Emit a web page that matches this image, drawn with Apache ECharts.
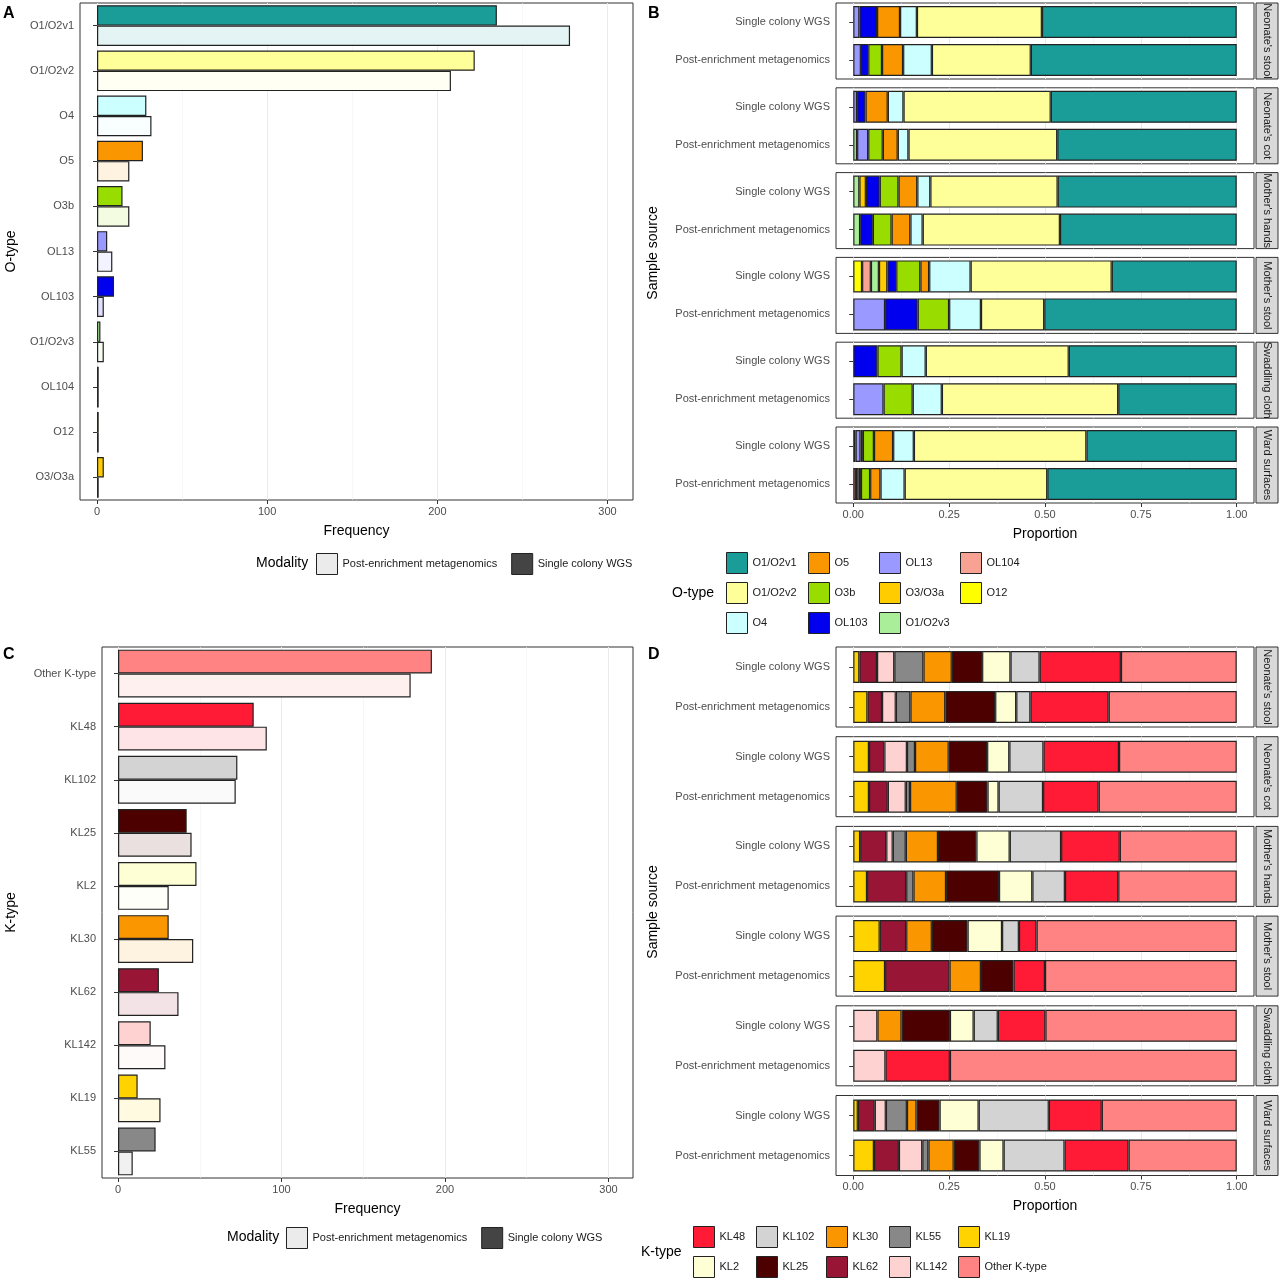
<!DOCTYPE html>
<html>
<head>
<meta charset="utf-8">
<script src="https://cdn.jsdelivr.net/npm/echarts@6/dist/echarts.min.js"></script>
<style>html,body{margin:0;padding:0;background:#fff}#main{width:1280px;height:1279px}</style>
</head>
<body>
<div id="main"></div>
<script>
// ---------- data ----------
var oTypes = ['O1/O2v1','O1/O2v2','O4','O5','O3b','OL13','OL103','O1/O2v3','OL104','O12','O3/O3a'];
var oFreqSC = [235, 222, 29, 27, 15, 6, 10, 2, 1, 1, 4];
var oFreqPE = [278, 208, 32, 19, 19, 9, 4, 4, 1, 1, 1];

var kTypes = ['Other K-type','KL48','KL102','KL25','KL2','KL30','KL62','KL142','KL19','KL55'];
var kFreqSC = [192, 83, 73, 42, 48, 31, 25, 20, 12, 23];
var kFreqPE = [179, 91, 72, 45, 31, 46, 37, 29, 26, 9];

var sources = ["Neonate's stool","Neonate's cot","Mother's hands","Mother's stool","Swaddling cloth","Ward surfaces"];
var modalities = ['Single colony WGS','Post-enrichment metagenomics'];

// stacking order, left to right
var oStack = ['O12','OL104','O1/O2v3','O3/O3a','OL13','OL103','O3b','O5','O4','O1/O2v2','O1/O2v1'];
var oPropSC = [
  [0,0,0,0,.016,.046,0,.060,.044,.326,.508],
  [0,0,0,0,.01,.022,0,.058,.041,.384,.485],
  [0,0,.016,.017,0,.036,.049,.049,.034,.332,.467],
  [.023,.023,.021,.022,0,.023,.063,.023,.108,.368,.326],
  [0,0,0,0,0,.063,.063,0,.063,.373,.438],
  [0,.006,0,0,.013,.006,.029,.05,.054,.45,.392]
];
var oPropPE = [
  [0,0,0,0,.02,.019,.036,.055,.075,.258,.537],
  [0,0,.01,0,.029,0,.038,.039,.028,.388,.468],
  [0,0,.018,0,0,.033,.049,.049,.032,.358,.461],
  [0,0,0,0,.083,.085,.082,0,.083,.165,.502],
  [0,0,0,0,.079,0,.076,0,.076,.46,.309],
  [0,.007,0,0,.007,.006,.024,.027,.063,.372,.494]
];

var kStack = ['KL19','KL62','KL142','KL55','KL30','KL25','KL2','KL102','KL48','Other K-type'];
var kPropSC = [
  [.016,.046,.045,.076,.074,.079,.074,.076,.212,.302],
  [.041,.04,.059,.021,.088,.1,.058,.089,.197,.307],
  [.018,.068,.017,.034,.084,.1,.087,.134,.153,.305],
  [.069,.069,0,0,.067,.093,.09,.044,.046,.522],
  [0,0,.063,0,.063,.126,.062,.063,.124,.499],
  [.012,.044,.029,.055,.025,.06,.102,.183,.138,.352]
];
var kPropPE = [
  [.037,.038,.036,.038,.091,.13,.055,.037,.204,.334],
  [.041,.049,.047,.011,.122,.08,.029,.116,.145,.36],
  [.036,.102,0,.019,.085,.138,.087,.085,.139,.309],
  [.083,.168,0,0,.082,.085,0,0,.082,.5],
  [0,0,.084,0,0,0,0,0,.168,.748],
  [.054,.065,.061,.016,.066,.067,.063,.159,.167,.282]
];

var oColors = {'O1/O2v1':'#1a9c98','O1/O2v2':'#ffff99','O4':'#ccffff','O5':'#fa9600','O3b':'#99dd00',
  'OL13':'#9999ff','OL103':'#0000ee','O1/O2v3':'#aaee99','OL104':'#f8a293','O12':'#ffff00','O3/O3a':'#ffcc00'};
var kColors = {'KL48':'#ff1a35','KL102':'#d3d3d3','KL30':'#fa9600','KL55':'#888888','KL19':'#ffd300',
  'KL2':'#ffffd6','KL25':'#4d0000','KL62':'#991536','KL142':'#ffd2d2','Other K-type':'#ff8383'};

// ---------- helpers ----------
function tint(hex, a){
  var r=parseInt(hex.substr(1,2),16), g=parseInt(hex.substr(3,2),16), b=parseInt(hex.substr(5,2),16);
  r=Math.round(255-(255-r)*a); g=Math.round(255-(255-g)*a); b=Math.round(255-(255-b)*a);
  return 'rgb('+r+','+g+','+b+')';
}
var txtGray = '#4d4d4d';
var gridLine = {show:true, lineStyle:{color:'#ebebeb', width:1}};
var border = '#222';

var grids=[], xAxes=[], yAxes=[], series=[], graphics=[];

function freqPanel(cats, sc, pe, colors, box, min, max, yName, rot){
  var gi = grids.length;
  grids.push({left:box[0], top:box[1], width:box[2], height:box[3], show:true, borderColor:'#333', borderWidth:1, outerBoundsMode:'none'});
  xAxes.push({gridIndex:gi, type:'value', min:min, max:max,
    axisLine:{show:false}, axisTick:{show:true, customValues:[0,100,200,300], length:4, lineStyle:{color:'#333'}},
    axisLabel:{customValues:[0,100,200,300], color:txtGray, fontSize:11, margin:6},
    splitLine:gridLine, name:'Frequency', nameLocation:'middle', nameGap:24, nameTextStyle:{fontSize:14, color:'#000'}});
  xAxes.push({gridIndex:gi, type:'value', min:min, max:max, show:true, axisLine:{show:false},
    axisTick:{show:false, customValues:[50,150,250]}, axisLabel:{show:false, customValues:[50,150,250]}, splitLine:{show:true, lineStyle:{color:'#f2f2f2', width:0.6}}});
  yAxes.push({gridIndex:gi, type:'category', data:cats, inverse:true,
    axisLine:{show:false}, axisTick:{show:true, alignWithLabel:true, length:4, lineStyle:{color:'#333'}},
    axisLabel:{color:txtGray, fontSize:11, margin:6}, splitLine:{show:false},
    name:yName, nameLocation:'middle', nameGap:rot, nameRotate:90, nameTextStyle:{fontSize:14, color:'#000'}});
  var xi = xAxes.length-2, yi = yAxes.length-1;
  series.push({type:'bar', name:'Single colony WGS', xAxisIndex:xi, yAxisIndex:yi, barGap:'0%', barCategoryGap:'10%',
    itemStyle:{color:'#444', borderColor:border, borderWidth:1.2},
    data:sc.map(function(v,i){return {value:v, itemStyle:{color:colors[cats[i]]}};})});
  series.push({type:'bar', name:'Post-enrichment metagenomics', xAxisIndex:xi, yAxisIndex:yi, barGap:'0%', barCategoryGap:'10%',
    itemStyle:{color:'#eee', borderColor:border, borderWidth:1.2},
    data:pe.map(function(v,i){return {value:v, itemStyle:{color:tint(colors[cats[i]],0.12)}};})});
}

function propPanel(stack, propSC, propPE, colors, top0, step, h, barW){
  for (var f=0; f<sources.length; f++){
    var gi = grids.length, top = top0 + f*step;
    grids.push({left:836, top:top, width:418, height:h, show:true, borderColor:'#333', borderWidth:1, outerBoundsMode:'none'});
    var isLast = (f===sources.length-1);
    xAxes.push({gridIndex:gi, type:'value', min:-0.045, max:1.045, axisLine:{show:false},
      axisTick:{show:isLast, customValues:[0,0.25,0.5,0.75,1], length:4, lineStyle:{color:'#333'}},
      axisLabel:{show:isLast, customValues:[0,0.25,0.5,0.75,1], color:txtGray, fontSize:11, margin:6,
        formatter:function(v){return v.toFixed(2);}},
      splitLine:gridLine,
      name:isLast?'Proportion':'', nameLocation:'middle', nameGap:24, nameTextStyle:{fontSize:14, color:'#000'}});
    xAxes.push({gridIndex:gi, type:'value', min:-0.045, max:1.045, axisLine:{show:false},
      axisTick:{show:false, customValues:[0.125,0.375,0.625,0.875]}, axisLabel:{show:false, customValues:[0.125,0.375,0.625,0.875]},
      splitLine:{show:true, lineStyle:{color:'#f2f2f2', width:0.6}}});
    yAxes.push({gridIndex:gi, type:'category', data:modalities, inverse:true, axisLine:{show:false},
      axisTick:{show:true, alignWithLabel:true, length:4, lineStyle:{color:'#333'}},
      axisLabel:{color:txtGray, fontSize:11, margin:6}, splitLine:{show:false}});
    var xi = xAxes.length-2, yi = yAxes.length-1;
    stack.forEach(function(t, k){
      series.push({type:'bar', name:t, stack:'s'+gi, xAxisIndex:xi, yAxisIndex:yi, barWidth:barW,
        itemStyle:{color:colors[t], borderColor:border, borderWidth:1.2},
        data:[propSC[f][k]||'-', propPE[f][k]||'-']});
    });
    graphics.push({type:'rect', shape:{x:1256, y:top, width:22, height:h},
      style:{fill:'#d9d9d9', stroke:'#333', lineWidth:1}});
    graphics.push({type:'text', x:1267, y:top+h/2, rotation:-Math.PI/2,
      style:{text:sources[f], fill:'#1a1a1a', font:'11px "Liberation Sans", Arial', align:'center', verticalAlign:'middle'}});
  }
}

freqPanel(oTypes, oFreqSC, oFreqPE, oColors, [80,3,553,497], -10, 315, 'O-type', 62);
propPanel(oStack, oPropSC, oPropPE, oColors, 3, 84.8, 76, 32);
freqPanel(kTypes, kFreqSC, kFreqPE, kColors, [102,647,531,531], -9.8, 315, 'K-type', 84);
propPanel(kStack, kPropSC, kPropPE, kColors, 647, 89.7, 80, 32);

// panel letters & shared titles
[['A',3,14],['B',648,14],['C',3,655],['D',648,655]].forEach(function(p){
  graphics.push({type:'text', x:p[1], y:p[2], style:{text:p[0], fill:'#000', font:'bold 16px "Liberation Sans", Arial', verticalAlign:'middle'}});
});
[253, 912].forEach(function(y){
  graphics.push({type:'text', x:653, y:y, rotation:Math.PI/2,
    style:{text:'Sample source', fill:'#000', font:'14px "Liberation Sans", Arial', align:'center', verticalAlign:'middle'}});
});
[['Modality',256,563],['Modality',227,1237],['O-type',672,593],['K-type',641,1252]].forEach(function(p){
  graphics.push({type:'text', x:p[1], y:p[2], style:{text:p[0], fill:'#000', font:'14px "Liberation Sans", Arial', verticalAlign:'middle'}});
});

// legends
var legends = [];
var legTxt = {fontSize:11, color:'#1a1a1a', fontFamily:'Liberation Sans'};
function modalityLegend(left, top){
  legends.push({left:left, top:top, padding:0, orient:'horizontal', itemWidth:21, itemHeight:21, itemGap:14, icon:'rect',
    textStyle:legTxt, selectedMode:false,
    data:[{name:'Post-enrichment metagenomics', itemStyle:{color:'#ebebeb', borderColor:border, borderWidth:1}},
          {name:'Single colony WGS', itemStyle:{color:'#444', borderColor:border, borderWidth:1}}]});
}
modalityLegend(316, 553);
modalityLegend(286, 1227);
function typeLegend(cols, xs, top, gap, colors){
  cols.forEach(function(col, i){
    legends.push({left:xs[i], top:top, padding:0, height:120, orient:'vertical', itemWidth:21, itemHeight:21, itemGap:gap, icon:'rect',
      textStyle:legTxt, selectedMode:false,
      data:col.map(function(n){return {name:n, itemStyle:{color:colors[n], borderColor:border, borderWidth:1}};})});
  });
}
typeLegend([['O1/O2v1','O1/O2v2','O4'],['O5','O3b','OL103'],['OL13','O3/O3a','O1/O2v3'],['OL104','O12']],
  [726,808,879,960], 552, 8, oColors);
typeLegend([['KL48','KL2'],['KL102','KL25'],['KL30','KL62'],['KL55','KL142'],['KL19','Other K-type']],
  [693,756,826,889,958], 1226, 8, kColors);

var chart = echarts.init(document.getElementById('main'));
chart.setOption({
  animation:false,
  textStyle:{fontFamily:'Liberation Sans, Arial'},
  grid:grids, xAxis:xAxes, yAxis:yAxes, series:series, legend:legends, graphic:graphics
});
</script>
</body>
</html>
